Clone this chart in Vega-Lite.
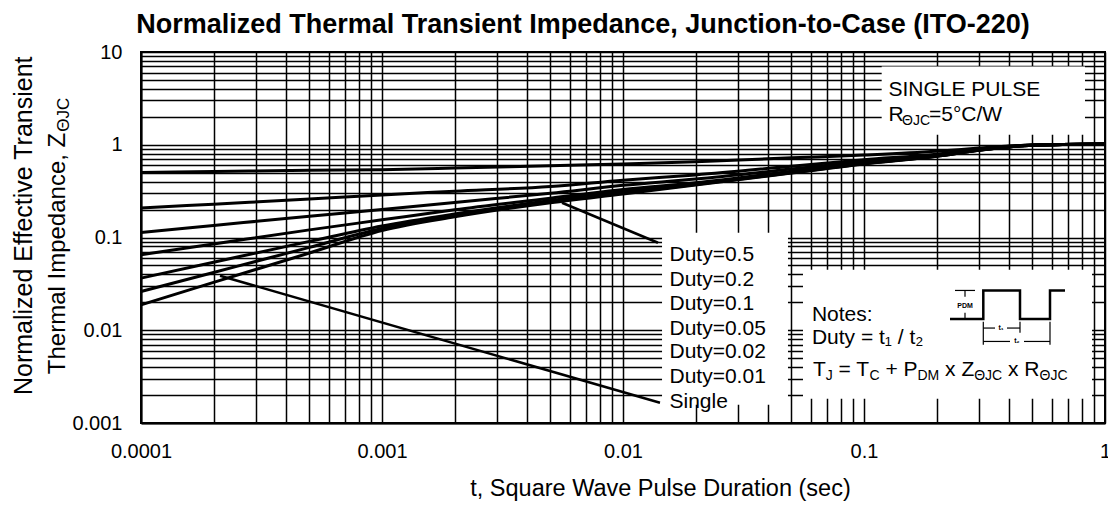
{
  "$schema": "https://vega.github.io/schema/vega-lite/v6.json",
  "width": 964,
  "height": 371,
  "autosize": {"type": "none"},
  "padding": {"left": 141, "top": 52, "right": 3, "bottom": 83},
  "background": "white",
  "config": {"view": {"stroke": "black", "strokeWidth": 2}, "font": "Liberation Sans"},
  "title": {"text": "Normalized Thermal Transient Impedance, Junction-to-Case (ITO-220)", "font": "Liberation Sans", "fontSize": 27, "fontWeight": "bold", "color": "black", "anchor": "middle", "dx": -40, "offset": -18, "baseline": "alphabetic"},
  "datasets": {
    "boxes": [
      {"t": 0.01452, "t2": 0.04837, "z": 0.1125, "z2": 0.001573},
      {"t": 0.05583, "t2": 0.8834, "z": 0.0449, "z2": 0.001826},
      {"t": 0.1184, "t2": 0.826, "z": 6.985, "z2": 1.282}
    ],
    "curves": [
      {"s": "Single", "t": 0.0001, "z": 0.0188}, {"s": "Single", "t": 0.0002, "z": 0.0328}, {"s": "Single", "t": 0.0005, "z": 0.0681}, {"s": "Single", "t": 0.001, "z": 0.119}, {"s": "Single", "t": 0.002, "z": 0.167}, {"s": "Single", "t": 0.005, "z": 0.237}, {"s": "Single", "t": 0.01, "z": 0.295}, {"s": "Single", "t": 0.02, "z": 0.368}, {"s": "Single", "t": 0.05, "z": 0.495}, {"s": "Single", "t": 0.1, "z": 0.62}, {"s": "Single", "t": 0.2, "z": 0.75}, {"s": "Single", "t": 0.3, "z": 0.87}, {"s": "Single", "t": 0.5, "z": 0.99}, {"s": "Single", "t": 1, "z": 1.02},
      {"s": "D0.01", "t": 0.0001, "z": 0.0262}, {"s": "D0.01", "t": 0.0002, "z": 0.042}, {"s": "D0.01", "t": 0.0005, "z": 0.0783}, {"s": "D0.01", "t": 0.001, "z": 0.125}, {"s": "D0.01", "t": 0.002, "z": 0.172}, {"s": "D0.01", "t": 0.005, "z": 0.243}, {"s": "D0.01", "t": 0.01, "z": 0.305}, {"s": "D0.01", "t": 0.02, "z": 0.372}, {"s": "D0.01", "t": 0.05, "z": 0.5}, {"s": "D0.01", "t": 0.1, "z": 0.625}, {"s": "D0.01", "t": 0.2, "z": 0.752}, {"s": "D0.01", "t": 0.3, "z": 0.872}, {"s": "D0.01", "t": 0.5, "z": 0.99}, {"s": "D0.01", "t": 1, "z": 1.02},
      {"s": "D0.02", "t": 0.0001, "z": 0.0365}, {"s": "D0.02", "t": 0.0002, "z": 0.0541}, {"s": "D0.02", "t": 0.0005, "z": 0.0908}, {"s": "D0.02", "t": 0.001, "z": 0.133}, {"s": "D0.02", "t": 0.002, "z": 0.179}, {"s": "D0.02", "t": 0.005, "z": 0.25}, {"s": "D0.02", "t": 0.01, "z": 0.315}, {"s": "D0.02", "t": 0.02, "z": 0.377}, {"s": "D0.02", "t": 0.05, "z": 0.505}, {"s": "D0.02", "t": 0.1, "z": 0.63}, {"s": "D0.02", "t": 0.2, "z": 0.755}, {"s": "D0.02", "t": 0.3, "z": 0.874}, {"s": "D0.02", "t": 0.5, "z": 0.99}, {"s": "D0.02", "t": 1, "z": 1.02},
      {"s": "D0.05", "t": 0.0001, "z": 0.0652}, {"s": "D0.05", "t": 0.0002, "z": 0.085}, {"s": "D0.05", "t": 0.0005, "z": 0.1208}, {"s": "D0.05", "t": 0.001, "z": 0.155}, {"s": "D0.05", "t": 0.002, "z": 0.199}, {"s": "D0.05", "t": 0.005, "z": 0.265}, {"s": "D0.05", "t": 0.01, "z": 0.33}, {"s": "D0.05", "t": 0.02, "z": 0.39}, {"s": "D0.05", "t": 0.05, "z": 0.518}, {"s": "D0.05", "t": 0.1, "z": 0.64}, {"s": "D0.05", "t": 0.2, "z": 0.76}, {"s": "D0.05", "t": 0.3, "z": 0.877}, {"s": "D0.05", "t": 0.5, "z": 0.99}, {"s": "D0.05", "t": 1, "z": 1.02},
      {"s": "D0.1", "t": 0.0001, "z": 0.1133}, {"s": "D0.1", "t": 0.0002, "z": 0.1348}, {"s": "D0.1", "t": 0.0005, "z": 0.1695}, {"s": "D0.1", "t": 0.001, "z": 0.2}, {"s": "D0.1", "t": 0.002, "z": 0.239}, {"s": "D0.1", "t": 0.005, "z": 0.3}, {"s": "D0.1", "t": 0.01, "z": 0.365}, {"s": "D0.1", "t": 0.02, "z": 0.427}, {"s": "D0.1", "t": 0.05, "z": 0.547}, {"s": "D0.1", "t": 0.1, "z": 0.66}, {"s": "D0.1", "t": 0.2, "z": 0.77}, {"s": "D0.1", "t": 0.3, "z": 0.885}, {"s": "D0.1", "t": 0.5, "z": 0.99}, {"s": "D0.1", "t": 1, "z": 1.02},
      {"s": "D0.2", "t": 0.0001, "z": 0.2077}, {"s": "D0.2", "t": 0.0002, "z": 0.2289}, {"s": "D0.2", "t": 0.0005, "z": 0.26}, {"s": "D0.2", "t": 0.001, "z": 0.288}, {"s": "D0.2", "t": 0.002, "z": 0.315}, {"s": "D0.2", "t": 0.005, "z": 0.355}, {"s": "D0.2", "t": 0.01, "z": 0.415}, {"s": "D0.2", "t": 0.02, "z": 0.473}, {"s": "D0.2", "t": 0.05, "z": 0.586}, {"s": "D0.2", "t": 0.1, "z": 0.69}, {"s": "D0.2", "t": 0.2, "z": 0.79}, {"s": "D0.2", "t": 0.3, "z": 0.897}, {"s": "D0.2", "t": 0.5, "z": 0.992}, {"s": "D0.2", "t": 1, "z": 1.02},
      {"s": "D0.5", "t": 0.0001, "z": 0.503}, {"s": "D0.5", "t": 0.0002, "z": 0.5145}, {"s": "D0.5", "t": 0.0005, "z": 0.531}, {"s": "D0.5", "t": 0.001, "z": 0.538}, {"s": "D0.5", "t": 0.002, "z": 0.56}, {"s": "D0.5", "t": 0.005, "z": 0.594}, {"s": "D0.5", "t": 0.01, "z": 0.62}, {"s": "D0.5", "t": 0.02, "z": 0.657}, {"s": "D0.5", "t": 0.05, "z": 0.722}, {"s": "D0.5", "t": 0.1, "z": 0.775}, {"s": "D0.5", "t": 0.2, "z": 0.85}, {"s": "D0.5", "t": 0.3, "z": 0.92}, {"s": "D0.5", "t": 0.5, "z": 0.995}, {"s": "D0.5", "t": 1, "z": 1.02}
    ],
    "thick": [
      {"g": "lead05", "i": 0, "t": 0.005583, "z": 0.2369}, {"g": "lead05", "i": 1, "t": 0.01397, "z": 0.08776},
      {"g": "leadS", "i": 0, "t": 0.0002127, "z": 0.03869}, {"g": "leadS", "i": 1, "t": 0.01424, "z": 0.001653},
      {"g": "wave", "i": 0, "t": 0.22743, "z": 0.013205}, {"g": "wave", "i": 1, "t": 0.31262, "z": 0.013205}, {"g": "wave", "i": 2, "t": 0.31262, "z": 0.02686}, {"g": "wave", "i": 3, "t": 0.44391, "z": 0.02686}, {"g": "wave", "i": 4, "t": 0.44391, "z": 0.013205}, {"g": "wave", "i": 5, "t": 0.59126, "z": 0.013205}, {"g": "wave", "i": 6, "t": 0.59126, "z": 0.02686}, {"g": "wave", "i": 7, "t": 0.68237, "z": 0.02686}
    ],
    "thin": [
      {"g": "t1a", "i": 0, "t": 0.31262, "z": 0.010561}, {"g": "t1a", "i": 1, "t": 0.3496, "z": 0.010561},
      {"g": "t1b", "i": 0, "t": 0.39207, "z": 0.010561}, {"g": "t1b", "i": 1, "t": 0.44391, "z": 0.010561},
      {"g": "t2a", "i": 0, "t": 0.31262, "z": 0.0075727}, {"g": "t2a", "i": 1, "t": 0.40347, "z": 0.0075727},
      {"g": "t2b", "i": 0, "t": 0.46121, "z": 0.0075727}, {"g": "t2b", "i": 1, "t": 0.59126, "z": 0.0075727},
      {"g": "e1", "i": 0, "t": 0.31262, "z": 0.01235}, {"g": "e1", "i": 1, "t": 0.31262, "z": 0.0069771},
      {"g": "e2", "i": 0, "t": 0.44391, "z": 0.01235}, {"g": "e2", "i": 1, "t": 0.44391, "z": 0.0093983},
      {"g": "e3", "i": 0, "t": 0.59126, "z": 0.01235}, {"g": "e3", "i": 1, "t": 0.59126, "z": 0.0069771},
      {"g": "pt", "i": 0, "t": 0.23856, "z": 0.02686}, {"g": "pt", "i": 1, "t": 0.28879, "z": 0.02686},
      {"g": "pa", "i": 0, "t": 0.26248, "z": 0.02686}, {"g": "pa", "i": 1, "t": 0.26248, "z": 0.022972},
      {"g": "pb", "i": 0, "t": 0.26248, "z": 0.015441}, {"g": "pb", "i": 1, "t": 0.26248, "z": 0.013205}
    ],
    "mainText": [
      {"label": "Duty=0.5", "t": 0.015594, "z": 0.05518},
      {"label": "Duty=0.2", "t": 0.015594, "z": 0.029665},
      {"label": "Duty=0.1", "t": 0.015594, "z": 0.016635},
      {"label": "Duty=0.05", "t": 0.015594, "z": 0.0089429},
      {"label": "Duty=0.02", "t": 0.015594, "z": 0.0050026},
      {"label": "Duty=0.01", "t": 0.015594, "z": 0.0026893},
      {"label": "Single", "t": 0.015594, "z": 0.0014458},
      {"label": "Notes:", "t": 0.0608, "z": 0.012442},
      {"label": "Duty = t₁ / t₂", "t": 0.0608, "z": 0.0071},
      {"label": "T", "t": 0.061431, "z": 0.003176},
      {"label": "= T", "t": 0.078454, "z": 0.003176},
      {"label": "+ P", "t": 0.122687, "z": 0.003176},
      {"label": "x Z", "t": 0.217026, "z": 0.003176},
      {"label": "x R", "t": 0.39583, "z": 0.003176},
      {"label": "SINGLE PULSE", "t": 0.12637, "z": 3.317},
      {"label": "R", "t": 0.12637, "z": 1.7832},
      {"label": "=5°C/W", "t": 0.18608, "z": 1.7832}
    ],
    "subText": [
      {"label": "J", "t": 0.069421, "z": 0.0029262},
      {"label": "C", "t": 0.105395, "z": 0.0029262},
      {"label": "DM", "t": 0.166721, "z": 0.0029262},
      {"label": "ΘJC", "t": 0.286589, "z": 0.0029262},
      {"label": "ΘJC", "t": 0.534835, "z": 0.0029262},
      {"label": "ΘJC", "t": 0.14377, "z": 1.6433}
    ],
    "tinyText": [
      {"label": "t₁", "t": 0.37022, "z": 0.010562},
      {"label": "t₂", "t": 0.43137, "z": 0.0075727},
      {"label": "PDM", "t": 0.26248, "z": 0.018372}
    ],
    "yTitle1": [{"label": "Normalized Effective Transient", "t": 0.000035194, "z": 0.13385}],
    "yTitle2": [{"label": "Thermal Impedance, Z", "t": 0.000048378, "z": 1.3469}],
    "yTitleSub": [{"label": "ΘJC", "t": 0.000050262, "z": 1.3809}]
  },
  "encoding": {
    "x": {
      "field": "t", "type": "quantitative",
      "scale": {"type": "log", "domain": [0.0001, 1], "nice": false},
      "axis": {
        "values": [0.0001, 0.0002, 0.0003, 0.0004, 0.0005, 0.0006, 0.0007, 0.0008, 0.0009, 0.001, 0.002, 0.003, 0.004, 0.005, 0.006, 0.007, 0.008, 0.009, 0.01, 0.02, 0.03, 0.04, 0.05, 0.06, 0.07, 0.08, 0.09, 0.1, 0.2, 0.3, 0.4, 0.5, 0.6, 0.7, 0.8, 0.9, 1],
        "format": "~g",
        "labelExpr": "abs(log(datum.value)/LN10 - round(log(datum.value)/LN10)) < 0.000001 ? datum.label : ''",
        "labelOverlap": false, "labelFlush": false,
        "grid": true, "gridColor": "black", "gridOpacity": 1, "gridWidth": 1.5,
        "ticks": false, "tickSize": 0,
        "domain": true, "domainColor": "black", "domainWidth": 2,
        "labelFont": "Liberation Sans", "labelFontSize": 20, "labelColor": "black", "labelPadding": 18,
        "title": "t, Square Wave Pulse Duration (sec)",
        "titleFont": "Liberation Sans", "titleFontSize": 23.5, "titleFontWeight": "normal", "titleColor": "black",
        "titleX": 519, "titleY": 65, "titleBaseline": "middle", "titleAlign": "center"
      }
    },
    "y": {
      "field": "z", "type": "quantitative",
      "scale": {"type": "log", "domain": [0.001, 10], "nice": false},
      "axis": {
        "values": [0.001, 0.002, 0.003, 0.004, 0.005, 0.006, 0.007, 0.008, 0.009, 0.01, 0.02, 0.03, 0.04, 0.05, 0.06, 0.07, 0.08, 0.09, 0.1, 0.2, 0.3, 0.4, 0.5, 0.6, 0.7, 0.8, 0.9, 1, 2, 3, 4, 5, 6, 7, 8, 9, 10],
        "format": "~g",
        "labelExpr": "abs(log(datum.value)/LN10 - round(log(datum.value)/LN10)) < 0.000001 ? datum.label : ''",
        "labelOverlap": false, "labelFlush": false,
        "grid": true, "gridColor": "black", "gridOpacity": 1, "gridWidth": 1.5,
        "ticks": false, "tickSize": 0,
        "domain": true, "domainColor": "black", "domainWidth": 2,
        "labelFont": "Liberation Sans", "labelFontSize": 20, "labelColor": "black", "labelPadding": 19,
        "title": null
      }
    }
  },
  "layer": [
    {
      "data": {"name": "boxes"},
      "mark": {"type": "rect", "fill": "white", "strokeWidth": 0},
      "encoding": {"x2": {"field": "t2"}, "y2": {"field": "z2"}}
    },
    {
      "data": {"name": "curves"},
      "mark": {"type": "line", "color": "black", "strokeWidth": 3, "interpolate": "monotone"},
      "encoding": {"detail": {"field": "s"}}
    },
    {
      "data": {"name": "thick"},
      "mark": {"type": "line", "color": "black", "strokeWidth": 2.5},
      "encoding": {"detail": {"field": "g"}, "order": {"field": "i"}}
    },
    {
      "data": {"name": "thin"},
      "mark": {"type": "line", "color": "black", "strokeWidth": 1.2},
      "encoding": {"detail": {"field": "g"}, "order": {"field": "i"}}
    },
    {
      "data": {"name": "mainText"},
      "mark": {"type": "text", "font": "Liberation Sans", "fontSize": 21, "align": "left", "baseline": "alphabetic", "color": "black"},
      "encoding": {"text": {"field": "label"}}
    },
    {
      "data": {"name": "subText"},
      "mark": {"type": "text", "font": "Liberation Sans", "fontSize": 14, "align": "left", "baseline": "alphabetic", "color": "black"},
      "encoding": {"text": {"field": "label"}}
    },
    {
      "data": {"name": "tinyText"},
      "mark": {"type": "text", "font": "Liberation Sans", "fontSize": 7, "fontWeight": "bold", "align": "center", "baseline": "middle", "color": "black"},
      "encoding": {"text": {"field": "label"}}
    },
    {
      "data": {"name": "yTitle1"},
      "mark": {"type": "text", "font": "Liberation Sans", "fontSize": 25, "angle": 270, "align": "center", "baseline": "alphabetic", "color": "black"},
      "encoding": {"text": {"field": "label"}}
    },
    {
      "data": {"name": "yTitle2"},
      "mark": {"type": "text", "font": "Liberation Sans", "fontSize": 24, "angle": 270, "align": "right", "baseline": "alphabetic", "color": "black"},
      "encoding": {"text": {"field": "label"}}
    },
    {
      "data": {"name": "yTitleSub"},
      "mark": {"type": "text", "font": "Liberation Sans", "fontSize": 17, "angle": 270, "align": "left", "baseline": "alphabetic", "color": "black"},
      "encoding": {"text": {"field": "label"}}
    }
  ]
}
